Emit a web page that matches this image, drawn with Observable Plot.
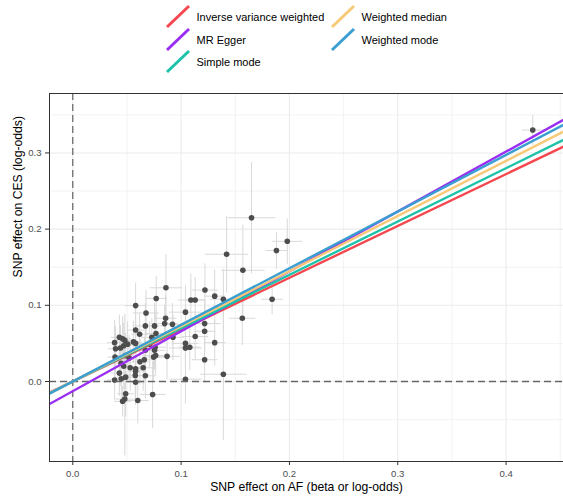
<!DOCTYPE html>
<html>
<head>
<meta charset="utf-8">
<script src="https://cdn.jsdelivr.net/npm/d3@7"></script>
<script src="https://cdn.jsdelivr.net/npm/@observablehq/plot@0.6"></script>
<style>
  html, body { margin: 0; padding: 0; background: #fff; }
  #wrap { width: 563px; font-family: "Liberation Sans", Arial, sans-serif; }
  #legend { width: 563px; height: 88px; display: block; }
  #chart svg { display: block; }
</style>
</head>
<body>
<div id="wrap">
  <svg id="legend" width="563" height="88"></svg>
  <div id="chart"></div>
</div>
<script>
// ---- Data ----
const methods = ["Inverse variance weighted", "MR Egger", "Simple mode", "Weighted median", "Weighted mode"];
const methodColors = ["#F5474F", "#9A2EF3", "#1DC2A9", "#F8C977", "#3A9FD0"];
const slopes = [0.6806, 0.786, 0.700, 0.724, 0.7435];
const intercepts = [0, -0.0127, 0, 0, 0];

const afBeta = [0.4246,0.165,0.198,0.188,0.142,0.157,0.086,0.122,0.131,0.077,0.109,0.113,0.139,0.184,0.058,0.0676,0.104,0.0857,0.0848,0.092,0.1565,0.1217,0.067,0.0755,0.058,0.0617,0.0768,0.073,0.1217,0.113,0.0925,0.043,0.046,0.048,0.0386,0.056,0.058,0.047,0.0506,0.104,0.104,0.108,0.131,0.0395,0.044,0.071,0.076,0.0755,0.067,0.087,0.0746,0.0765,0.1217,0.039,0.062,0.066,0.052,0.0485,0.0445,0.047,0.053,0.058,0.058,0.065,0.043,0.0488,0.0448,0.0386,0.0577,0.067,0.058,0.104,0.139,0.0488,0.048,0.046,0.060,0.0737];
const afSe = [0.010,0.022,0.014,0.010,0.020,0.020,0.015,0.012,0.010,0.010,0.012,0.010,0.012,0.010,0.010,0.012,0.015,0.010,0.012,0.010,0.012,0.015,0.010,0.010,0.008,0.008,0.010,0.010,0.010,0.012,0.010,0.008,0.008,0.008,0.007,0.008,0.008,0.008,0.008,0.012,0.015,0.010,0.010,0.007,0.008,0.010,0.010,0.010,0.010,0.012,0.010,0.010,0.012,0.007,0.008,0.008,0.008,0.008,0.008,0.008,0.008,0.008,0.008,0.010,0.008,0.008,0.008,0.007,0.008,0.010,0.008,0.015,0.0215,0.008,0.010,0.008,0.010,0.012];
const cesBeta = [0.330,0.215,0.184,0.172,0.167,0.146,0.123,0.120,0.112,0.109,0.107,0.107,0.108,0.108,0.0996,0.090,0.091,0.083,0.076,0.075,0.083,0.076,0.073,0.073,0.0675,0.062,0.063,0.058,0.066,0.059,0.058,0.058,0.056,0.054,0.051,0.052,0.050,0.047,0.049,0.050,0.044,0.045,0.051,0.043,0.044,0.049,0.045,0.041,0.041,0.033,0.032,0.034,0.0286,0.032,0.026,0.0286,0.031,0.034,0.024,0.020,0.018,0.0167,0.0136,0.018,0.011,0.0057,0.0035,0.002,0.008,0.0075,-0.001,0.003,0.0096,-0.016,-0.023,-0.026,-0.025,-0.017];
const cesSe = [0.020,0.073,0.030,0.024,0.050,0.060,0.044,0.035,0.035,0.030,0.035,0.030,0.040,0.020,0.030,0.030,0.035,0.030,0.025,0.028,0.035,0.030,0.030,0.030,0.030,0.028,0.030,0.025,0.030,0.030,0.030,0.030,0.030,0.035,0.030,0.028,0.030,0.030,0.030,0.030,0.025,0.030,0.030,0.030,0.030,0.030,0.030,0.025,0.030,0.030,0.030,0.025,0.030,0.030,0.030,0.030,0.030,0.030,0.030,0.030,0.030,0.030,0.030,0.030,0.030,0.030,0.030,0.025,0.030,0.030,0.030,0.032,0.086,0.030,0.074,0.020,0.030,0.044];

const xTicks = [0, 0.1, 0.2, 0.3, 0.4];
const xMinor = [0.05, 0.15, 0.25, 0.35, 0.45];
const yTicks = [0, 0.1, 0.2, 0.3];
const yMinor = [-0.05, 0.05, 0.15, 0.25, 0.35];
const xDomain = [-0.0215, 0.453];
const yDomain = [-0.105, 0.378];
const xTitle = "SNP effect on AF (beta or log-odds)";
const yTitle = "SNP effect on CES (log-odds)";

// ---- Build table ----
const snps = afBeta.map((x, i) => ({x, y: cesBeta[i], sx: afSe[i], sy: cesSe[i]}));
const lineData = methods.map((m, i) => xDomain.map(x => ({method: m, x, y: intercepts[i] + slopes[i] * x})));

// ---- Legend ----
const leg = d3.select("#legend");
const legPos = [[167, 6], [167, 29], [167, 51], [332, 6], [332, 29]];
methods.forEach((m, i) => {
  const [kx, ky] = legPos[i];
  leg.append("line").attr("x1", kx).attr("y1", ky + 21).attr("x2", kx + 22).attr("y2", ky)
    .attr("stroke", methodColors[i]).attr("stroke-width", 3);
  leg.append("text").attr("x", kx + 29.5).attr("y", ky + 11).attr("dy", "0.35em")
    .attr("font-size", 11).attr("fill", "#000")
    .attr("font-family", "Liberation Sans, Arial, sans-serif").text(m);
});

// ---- Plot ----
const marks = [
  Plot.gridX(xMinor, {stroke: "#ebebeb", strokeOpacity: 1, strokeWidth: 0.6}),
  Plot.gridY(yMinor, {stroke: "#ebebeb", strokeOpacity: 1, strokeWidth: 0.6}),
  Plot.gridX(xTicks, {stroke: "#ebebeb", strokeOpacity: 1, strokeWidth: 1.1}),
  Plot.gridY(yTicks, {stroke: "#ebebeb", strokeOpacity: 1, strokeWidth: 1.1}),
  Plot.link(snps, {x1: d => d.x, x2: d => d.x, y1: d => d.y - d.sy, y2: d => d.y + d.sy, stroke: "#d9d9d9", strokeWidth: 1, clip: true}),
  Plot.link(snps, {x1: d => d.x - d.sx, x2: d => d.x + d.sx, y1: d => d.y, y2: d => d.y, stroke: "#d9d9d9", strokeWidth: 1, clip: true}),
  Plot.dot(snps, {x: "x", y: "y", r: 2.8, fill: "#4d4d4d", stroke: "none"}),
  Plot.ruleX([0], {stroke: "#555", strokeWidth: 1.1, strokeDasharray: "7,4"}),
  Plot.ruleY([0], {stroke: "#666", strokeWidth: 1.3, strokeDasharray: "7,4"}),
  ...lineData.map((ld, i) => Plot.line(ld, {x: "x", y: "y", stroke: methodColors[i], strokeWidth: 2.4, clip: true})),
  Plot.frame({stroke: "#333", strokeWidth: 1}),
  Plot.axisX(xTicks, {tickSize: 4, tickPadding: 4.5, fontSize: 9.6, tickFormat: d3.format(".1f"), stroke: "#333", color: "#4d4d4d", label: null}),
  Plot.axisY(yTicks, {tickSize: 4, tickPadding: 4, fontSize: 9.6, tickFormat: d3.format(".1f"), stroke: "#333", color: "#4d4d4d", label: null}),
  Plot.text([xTitle], {frameAnchor: "bottom", dy: 29.5, fontSize: 12.2, fill: "#000", text: d => d}),
  Plot.text([yTitle], {frameAnchor: "left", dx: -31, rotate: -90, fontSize: 12.2, fill: "#000", text: d => d})
];

const chart = Plot.plot({
  width: 563,
  height: 409,
  marginTop: 5,
  marginBottom: 36,
  marginLeft: 49,
  marginRight: 0,
  style: {fontFamily: "Liberation Sans, Arial, sans-serif", background: "#fff", overflow: "visible"},
  x: {domain: xDomain},
  y: {domain: yDomain},
  marks
});
document.getElementById("chart").appendChild(chart);
</script>
</body>
</html>
